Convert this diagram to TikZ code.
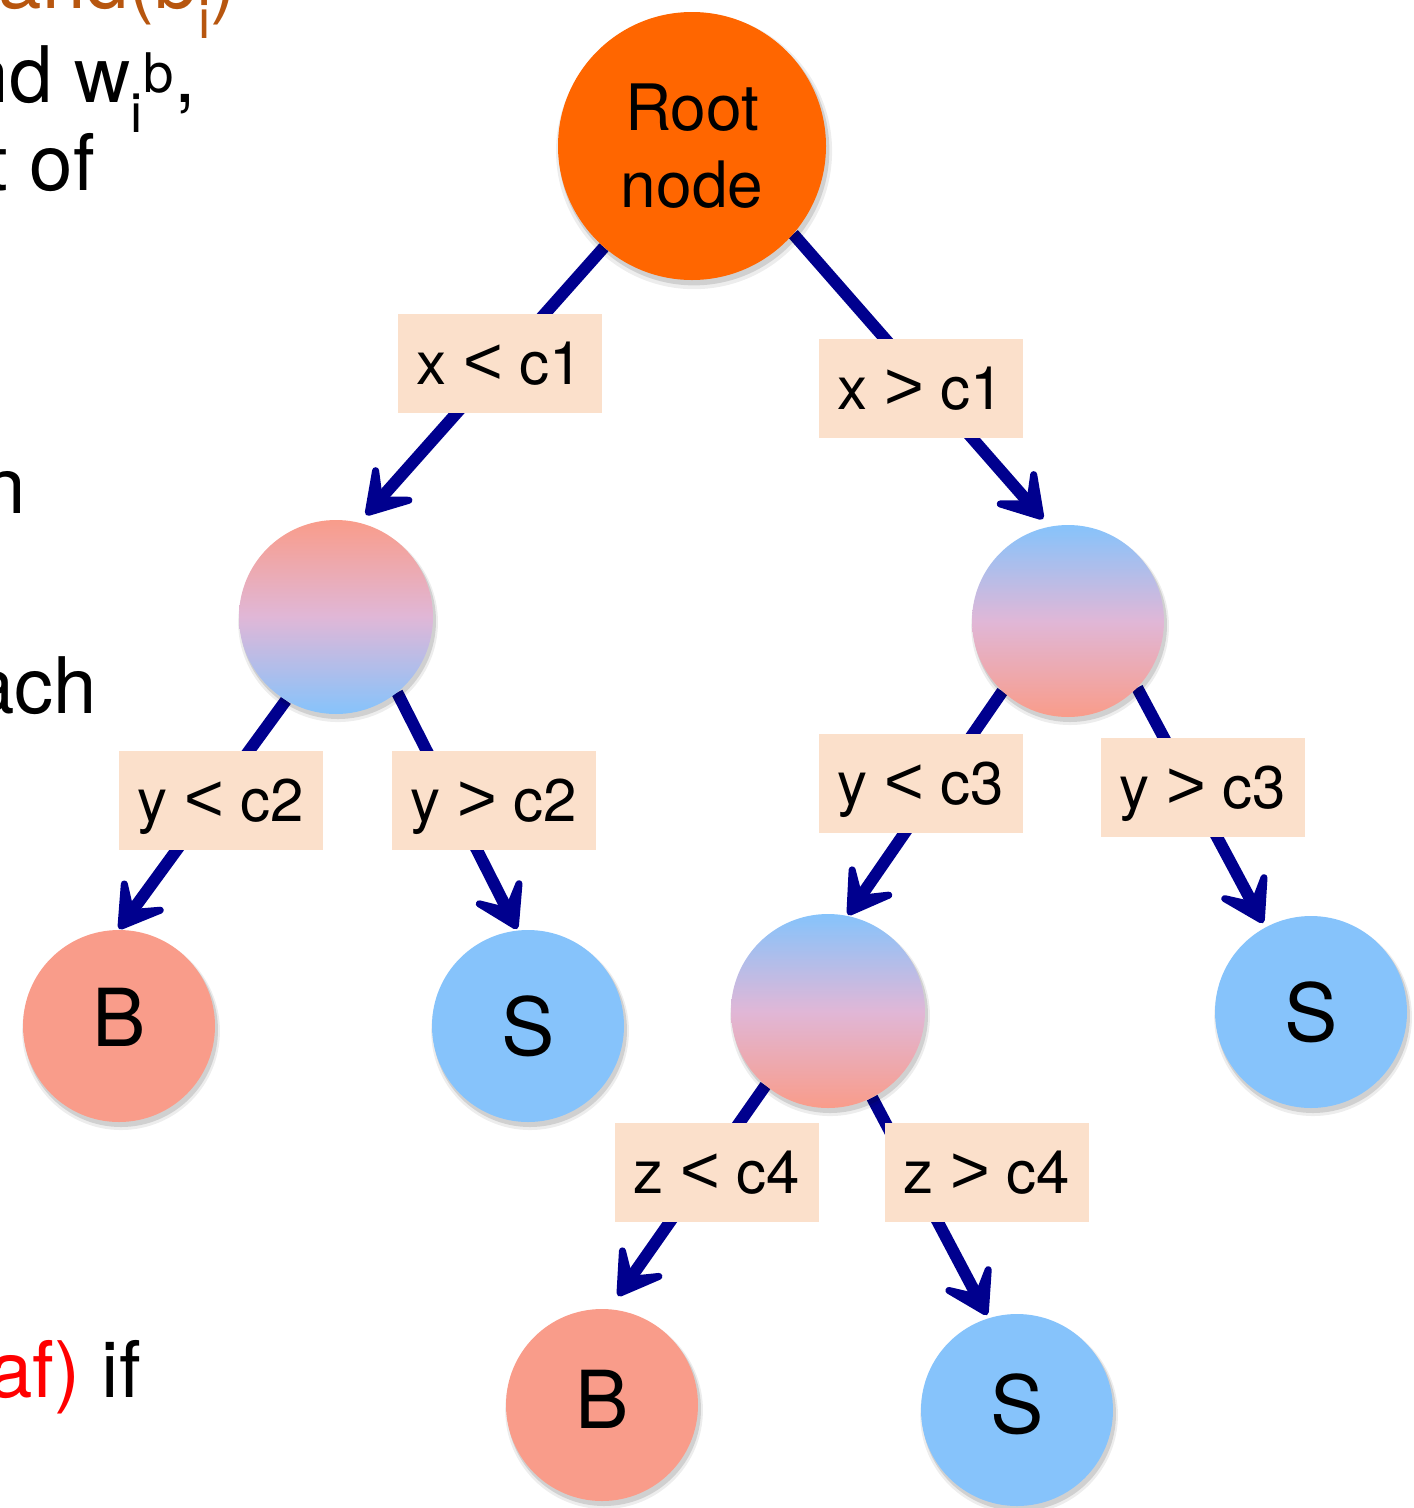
\documentclass[tikz,border=0pt]{standalone}
\usepackage{fontspec}
\setmainfont{TeX Gyre Heros}
\newfontfamily\cmpfont{Liberation Sans}
\usetikzlibrary{arrows.meta,shadows}
\definecolor{rootor}{RGB}{255,102,0}
\definecolor{salm}{RGB}{249,156,138}
\definecolor{skyb}{RGB}{134,195,251}
\definecolor{lav}{RGB}{224,183,215}
\definecolor{peach}{RGB}{251,224,203}
\definecolor{navy}{RGB}{0,0,142}
\definecolor{brownor}{RGB}{183,86,15}
\pgfdeclarelayer{bg}
\pgfsetlayers{bg,main}
\newcommand{\lt}{ {\cmpfont\fontsize{68}{70}\selectfont <} }
\newcommand{\gt}{ {\cmpfont\fontsize{68}{70}\selectfont >} }
\begin{document}
\begin{tikzpicture}[x=1pt,y=-1pt,
  softshadow/.style={
    general shadow={shadow xshift=2pt,shadow yshift=-5pt,shadow scale=1.03,fill=black,opacity=0.07},
    general shadow={shadow xshift=2pt,shadow yshift=-4pt,shadow scale=1.01,fill=black,opacity=0.12}},
  ball/.style={circle,inner sep=0pt,minimum size=192pt,softshadow,
    font=\fontsize{80}{90}\selectfont,text height=58pt,text depth=0pt},
  redball/.style={ball,fill=salm},
  blueball/.style={ball,fill=skyb},
  rbgrad/.style={ball,top color=salm,bottom color=skyb,middle color=lav},
  brgrad/.style={ball,top color=skyb,bottom color=salm,middle color=lav},
  lab/.style={fill=peach,minimum width=204pt,minimum height=99pt,inner sep=0pt,
    font=\fontsize{60}{70}\selectfont,text height=43pt,text depth=0pt},
  edgearrow/.style={draw=navy,line width=12pt,
    -{Stealth[length=60pt,width=74pt,inset=32pt,round]}},
  frag/.style={inner sep=0pt,anchor=base east,font=\fontsize{78}{90}\selectfont}]
\useasboundingbox (0,0) rectangle (1414,1508);

% cropped slide text at the left
\node[frag,text=brownor] (f1) at (237,8) {and(b\textsubscript{i})};
\node[frag] (f2) at (196,102) {nd w\textsubscript{i}\textsuperscript{b},};
\node[frag] (f3) at (95,190) {t of};
\node[frag] (f4) at (26,513) {n};
\node[frag] (f5) at (97,713) {ach};
\node[frag] (f6) at (141,1397) {\textcolor{red}{af)} if};

% tree nodes
\node[ball,fill=rootor,minimum size=268pt,align=center,
  font=\fontsize{64}{77}\selectfont,text height=,text depth=] (root) at (692,146) {Root\\node};
\node[rbgrad,minimum size=194pt] (midL) at (336,617) {};
\node[brgrad] (midR) at (1068,621) {};
\node[brgrad,minimum size=194pt] (lowM) at (828,1011) {};
\node[redball,text depth=18pt] (bL) at (119,1026) {B};
\node[blueball] (sM) at (528,1026) {S};
\node[blueball] (sR) at (1311,1012) {S};
\node[redball,text depth=12pt] (bB) at (602,1405) {B};
\node[blueball,text depth=12pt] (sB) at (1017,1410) {S};

% arrow tips
\coordinate (t1) at (366,515);
\coordinate (t2) at (1043,519);
\coordinate (t3) at (119,929);
\coordinate (t4) at (517,929);
\coordinate (t5) at (848,915);
\coordinate (t6) at (1263,923);
\coordinate (t7) at (618,1296);
\coordinate (t8) at (987,1315);

% labels
\node[lab] (l1) at (500,363) {x\lt c1};
\node[lab] (l2) at (921,388) {x\gt c1};
\node[lab] (l3) at (221,800) {y\lt c2};
\node[lab] (l4) at (494,800) {y\gt c2};
\node[lab] (l5) at (921,783) {y\lt c3};
\node[lab] (l6) at (1203,787) {y\gt c3};
\node[lab] (l7) at (717,1172) {z\lt c4};
\node[lab] (l8) at (987,1172) {z\gt c4};

\begin{pgfonlayer}{bg}
\draw[edgearrow] (root.-131) -- (t1);
\draw[edgearrow] (root.-41) -- (t2);
\draw[edgearrow] (midL.-121) -- (t3);
\draw[edgearrow] (midL.-51) -- (t4);
\draw[edgearrow] (midR.-133) -- (t5);
\draw[edgearrow] (midR.-44) -- (t6);
\draw[edgearrow] (lowM.-130) -- (t7);
\draw[edgearrow] (lowM.-63) -- (t8);
\end{pgfonlayer}
\end{tikzpicture}
\end{document}
